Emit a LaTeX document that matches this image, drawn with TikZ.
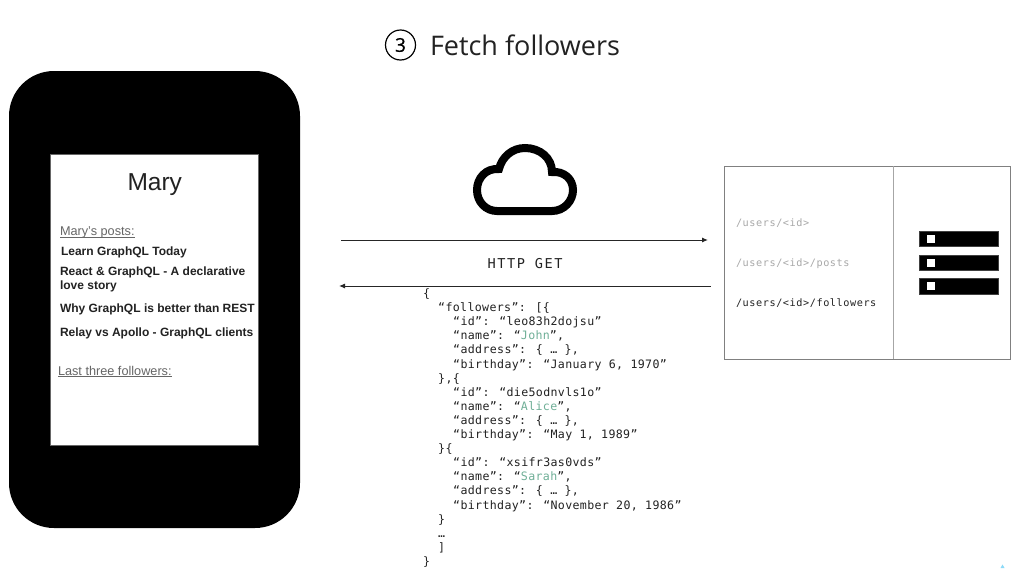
\documentclass[tikz,border=0pt]{standalone}
\usepackage{fontspec}
\setmainfont{Liberation Sans}
\newfontfamily\titlefont{Open Sans}
\newfontfamily\codefont{DejaVu Sans Mono}
\usetikzlibrary{arrows.meta}
\definecolor{greentxt}{HTML}{6FAF97}
\definecolor{boxgray}{HTML}{808080}
\definecolor{lightcode}{HTML}{A8A8A8}
\definecolor{ink}{HTML}{222222}
\tikzset{
  x=1pt,y=-1pt,
  lbl/.style={anchor=base west,inner sep=0pt,outer sep=0pt},
  post/.style={lbl,font=\fontsize{12}{15}\selectfont\bfseries,text=ink},
  sect/.style={lbl,font=\fontsize{12.7}{15}\selectfont,text=black!60},
  route/.style={lbl,font=\fontsize{10.2}{12}\codefont\addfontfeature{LetterSpace=5.6}},
  bar/.style={fill=black,draw=black!75,line width=.5pt},
  hole/.style={fill=white,draw=none},
  wire/.style={draw=black!85,line width=1pt,-{Latex[length=6pt,width=5pt]}},
}
\newcommand{\ind}[1]{\hspace*{#1pt}}
\begin{document}
\begin{tikzpicture}
\useasboundingbox (0,0) rectangle (1024,568);
\fill[white] (0,0) rectangle (1024,568);
% title
\node[draw=black,line width=1.2pt,circle,minimum size=30pt,inner sep=0pt,font=\fontsize{19}{20}\titlefont\addfontfeature{FakeBold=0.6}] (num) at (400.5,45) {3};
\node[lbl,font=\fontsize{27}{30}\titlefont,text=ink] (title) at (430,55.5) {Fetch followers};
% phone
\node[draw=none,fill=black,rounded corners=45pt,minimum width=291pt,minimum height=457pt,inner sep=0pt] (phone) at (154.5,299.5) {};
\node[fill=white,draw=black!60,line width=.5pt,minimum width=208pt,minimum height=291pt,inner sep=0pt] (screen) at (154,299.5) {};
\node[lbl,font=\fontsize{24.5}{28}\selectfont,text=ink] (mary) at (127.5,190) {Mary};
\node[sect] (posts) at (60,235.5) {\underline{\smash{Mary’s posts:}}};
\node[post] (p1) at (61,255) {Learn GraphQL Today};
\node[post] (p2) at (60,275) {React \& GraphQL - A declarative};
\node[post] (p2b) at (60,289.5) {love story};
\node[post] (p3) at (60,312) {Why GraphQL is better than REST};
\node[post] (p4) at (60,336.5) {Relay vs Apollo - GraphQL clients};
\node[sect] (foll) at (58,375) {\underline{\smash{Last three followers:}}};
% cloud
\draw[line width=8pt,black,miter limit=10] (497,211) -- (552,211)
  .. controls (564,211) and (573,201) .. (573,190)
  .. controls (573,179) and (564,171) .. (552,172)
  .. controls (552,158) and (540,148) .. (525,148)
  .. controls (512,148) and (502,157) .. (499,169)
  .. controls (486,168) and (477,178) .. (477,190)
  .. controls (477,202) and (486,211) .. (497,211) -- cycle;
% arrows
\coordinate (reqA) at (341,240);
\coordinate (reqB) at (708,240);
\coordinate (resA) at (710.5,286);
\coordinate (resB) at (339,286);
\draw[wire] (reqA) -- (reqB);
\draw[wire] (resA) -- (resB);
\node[anchor=base,inner sep=0pt,font=\fontsize{13.6}{16}\codefont\addfontfeature{LetterSpace=11.5},text=ink] (http) at (525,268) {HTTP GET};
% server
\node[draw=boxgray,line width=1pt,minimum width=286pt,minimum height=193pt,inner sep=0pt] (server) at (867,262.5) {};
\coordinate (divT) at (893.5,166);
\coordinate (divB) at (893.5,359);
\draw[black!35,line width=.8pt] (divT) -- (divB);
\node[route,text=lightcode] (r1) at (736,226) {/users/<id>};
\node[route,text=lightcode] (r2) at (736,266.5) {/users/<id>/posts};
\node[route,text=ink] (r3) at (736,306.5) {/users/<id>/followers};
\node[bar,minimum width=79pt,minimum height=15.5pt,inner sep=0pt] (b1) at (958.5,238.8) {};
\node[bar,minimum width=79pt,minimum height=15.5pt,inner sep=0pt] (b2) at (958.5,262.5) {};
\node[bar,minimum width=79pt,minimum height=15.5pt,inner sep=0pt] (b3) at (958.5,286.3) {};
\node[hole,minimum size=8pt,inner sep=0pt] (h1) at (930.5,238.8) {};
\node[hole,minimum size=8pt,inner sep=0pt] (h2) at (930.5,262.5) {};
\node[hole,minimum size=8pt,inner sep=0pt] (h3) at (930.5,286.3) {};
% json
\node[anchor=north west,inner sep=0pt,align=left,text=ink,font=\fontsize{11.6}{14.1}\codefont\addfontfeature{LetterSpace=3}] (json) at (423,288.5) {%
\{\\
\ind{15}“followers”: [\{\\
\ind{30}“id”: “leo83h2dojsu”\\
\ind{30}“name”: “\textcolor{greentxt}{John}”,\\
\ind{30}“address”: \{ … \},\\
\ind{30}“birthday”: “January 6, 1970”\\
\ind{15}\},\{\\
\ind{30}“id”: “die5odnvls1o”\\
\ind{30}“name”: “\textcolor{greentxt}{Alice}”,\\
\ind{30}“address”: \{ … \},\\
\ind{30}“birthday”: “May 1, 1989”\\
\ind{15}\}\{\\
\ind{30}“id”: “xsifr3as0vds”\\
\ind{30}“name”: “\textcolor{greentxt}{Sarah}”,\\
\ind{30}“address”: \{ … \},\\
\ind{30}“birthday”: “November 20, 1986”\\
\ind{15}\}\\
\ind{15}…\\
\ind{15}]\\
\}};
% corner mark
\fill[cyan!45] (1000.5,568) -- (1002.5,564.5) -- (1004.5,568) -- cycle;
\end{tikzpicture}
\end{document}
